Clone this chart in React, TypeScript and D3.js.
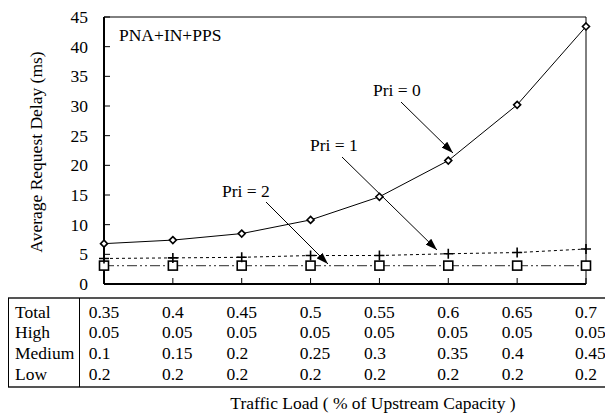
import React from 'react';
import * as d3 from 'd3';

// traffic load categories (total) and the per-class loads shown in the table
const totalLoad = ['0.35', '0.4', '0.45', '0.5', '0.55', '0.6', '0.65', '0.7'];
const highLoad = ['0.05', '0.05', '0.05', '0.05', '0.05', '0.05', '0.05', '0.05'];
const mediumLoad = ['0.1', '0.15', '0.2', '0.25', '0.3', '0.35', '0.4', '0.45'];
const lowLoad = ['0.2', '0.2', '0.2', '0.2', '0.2', '0.2', '0.2', '0.2'];

// average request delay (ms) per priority
const pri0 = [6.8, 7.4, 8.5, 10.8, 14.7, 20.8, 30.2, 43.4];
const pri1 = [4.3, 4.4, 4.5, 4.8, 4.8, 5.1, 5.3, 5.9];
const pri2 = [3.1, 3.1, 3.1, 3.1, 3.1, 3.1, 3.1, 3.1];

const yTicks = [0, 5, 10, 15, 20, 25, 30, 35, 40, 45];

const FS = 17.5;
const txt: React.CSSProperties = { fontFamily: "'Liberation Serif', 'Times New Roman', serif", fontSize: FS };

// rough Times width of a number string, used to line up table columns
const textWidth = (s: string) => s.split('').reduce((w, c) => w + (c === '.' ? 0.25 : 0.5), 0) * FS;

export default function App() {
    const width = 605;
    const height = 416;
    const plot = { left: 104, right: 586, top: 17, bottom: 284 };

    const x = d3.scalePoint<string>().domain(totalLoad).range([plot.left, plot.right]);
    const y = d3.scaleLinear().domain([0, 45]).range([plot.bottom, plot.top]);

    const line = d3.line<number>()
        .x((d, i) => x(totalLoad[i]) as number)
        .y(d => y(d));

    const tableTop = 298;
    const tableBottom = 387;
    const rows = [
        { label: 'Total', values: totalLoad },
        { label: 'High', values: highLoad },
        { label: 'Medium', values: mediumLoad },
        { label: 'Low', values: lowLoad },
    ];
    const rowBase = [318, 338, 359, 380];

    // annotations: text plus arrow to the series
    const notes = [
        { text: 'Pri = 0', tx: 373, ty: 96, x1: 401, y1: 102, x2: 453, y2: 153 },
        { text: 'Pri = 1', tx: 310, ty: 151, x1: 342, y1: 157, x2: 437, y2: 250 },
        { text: 'Pri = 2', tx: 222, ty: 197, x1: 266, y1: 202, x2: 328, y2: 264 },
    ];

    return (
        <svg width={width} height={height} style={{ position: 'absolute', left: 0, top: 0 }}>
            <defs>
                <marker id="arrow" viewBox="0 0 12 8" refX="12" refY="4" markerWidth="12" markerHeight="8"
                    markerUnits="userSpaceOnUse" orient="auto">
                    <path d="M0,0 L12,4 L0,8 Z" fill="#000" />
                </marker>
            </defs>
            <rect width={width} height={height} fill="#fff" />

            {/* frame */}
            <line x1={plot.left} x2={plot.right} y1={plot.top} y2={plot.top} stroke="#000" strokeWidth={1} />
            <line x1={plot.right} x2={plot.right} y1={plot.top} y2={plot.bottom} stroke="#000" strokeWidth={1} />

            {/* y ticks and labels */}
            {yTicks.map(t => (
                <g key={t}>
                    <line x1={plot.left} x2={plot.left + 6} y1={y(t)} y2={y(t)} stroke="#000" />
                    <text style={txt} x={88} y={y(t) + 6} textAnchor="end">{t}</text>
                </g>
            ))}
            {/* x ticks */}
            {totalLoad.map(t => (
                <line key={t} x1={x(t)} x2={x(t)} y1={plot.bottom} y2={plot.bottom - 6} stroke="#000" />
            ))}

            <line x1={plot.left} x2={plot.left} y1={plot.top} y2={plot.bottom} stroke="#000" strokeWidth={2} />
            <line x1={plot.left} x2={plot.right} y1={plot.bottom} y2={plot.bottom} stroke="#000" strokeWidth={2} />

            <text style={txt} transform="translate(42,152) rotate(-90)" textAnchor="middle">
                Average Request Delay (ms)
            </text>
            <text style={txt} x={119} y={41}>PNA+IN+PPS</text>

            {/* series lines */}
            <path d={line(pri2) as string} fill="none" stroke="#555" strokeWidth={1.2} strokeDasharray="10 3 2 3 2 3" />
            <path d={line(pri1) as string} fill="none" stroke="#000" strokeWidth={1} strokeDasharray="3 3" />
            <path d={line(pri0) as string} fill="none" stroke="#000" strokeWidth={1} />

            {/* markers */}
            {pri2.map((v, i) => (
                <rect key={'s' + i} x={(x(totalLoad[i]) as number) - 4.5} y={y(v) - 4.5} width={9} height={9}
                    fill="#fff" stroke="#000" strokeWidth={1.6} />
            ))}
            {pri1.map((v, i) => {
                const cx = x(totalLoad[i]) as number;
                const cy = y(v);
                return (
                    <path key={'p' + i} d={`M${cx - 5},${cy}H${cx + 5}M${cx},${cy - 5}V${cy + 5}`}
                        stroke="#000" strokeWidth={1.6} />
                );
            })}
            {pri0.map((v, i) => {
                const cx = x(totalLoad[i]) as number;
                const cy = y(v);
                return (
                    <path key={'d' + i} d={`M${cx},${cy - 3.5}L${cx + 3.5},${cy}L${cx},${cy + 3.5}L${cx - 3.5},${cy}Z`}
                        fill="#fff" stroke="#000" strokeWidth={1.6} />
                );
            })}

            {/* annotations */}
            {notes.map(n => (
                <g key={n.text}>
                    <text style={txt} x={n.tx} y={n.ty}>{n.text}</text>
                    <line x1={n.x1} y1={n.y1} x2={n.x2} y2={n.y2} stroke="#000" strokeWidth={1} markerEnd="url(#arrow)" />
                </g>
            ))}

            {/* data table */}
            <line x1={8} x2={605} y1={tableTop} y2={tableTop} stroke="#555" strokeWidth={2} />
            <line x1={8} x2={605} y1={tableBottom} y2={tableBottom} stroke="#555" strokeWidth={2} />
            <line x1={8.5} x2={8.5} y1={tableTop} y2={tableBottom} stroke="#000" strokeWidth={1} />
            <line x1={79.5} x2={79.5} y1={tableTop} y2={tableBottom} stroke="#000" strokeWidth={1} />
            {rows.map((r, ri) => (
                <g key={r.label}>
                    <text style={txt} x={15} y={rowBase[ri]}>{r.label}</text>
                    {r.values.map((v, ci) => (
                        <text style={txt} key={ci} x={(x(totalLoad[ci]) as number) - textWidth(totalLoad[ci]) / 2} y={rowBase[ri]}>{v}</text>
                    ))}
                </g>
            ))}

            <text style={txt} x={373} y={409} textAnchor="middle">Traffic Load ( % of Upstream Capacity )</text>
        </svg>
    );
}
